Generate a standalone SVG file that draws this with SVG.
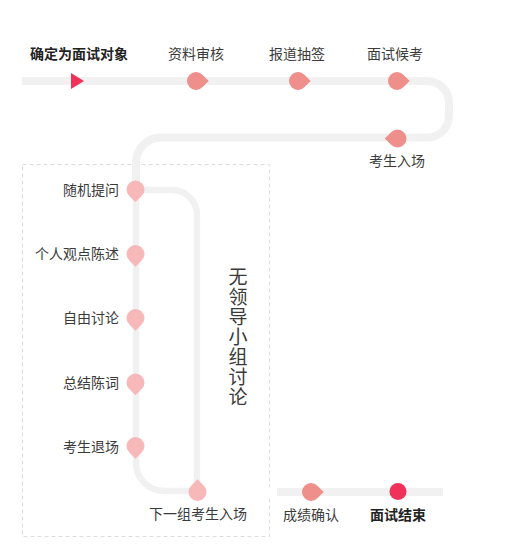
<svg xmlns="http://www.w3.org/2000/svg" xmlns:xlink="http://www.w3.org/1999/xlink" width="506" height="558" viewBox="0 0 506 558">
<style>
text{font-family:"Noto Sans CJK SC","Noto Sans",sans-serif;font-size:14px;fill:#3a3a3a}
.b{font-weight:bold;fill:#222}
.r{text-anchor:end}
.c{text-anchor:middle}
.track{fill:none;stroke:#f1f1f1;stroke-linecap:butt;stroke-linejoin:round}
.p1{fill:#ee8f8c}
.p2{fill:#f6b8b8}
.red{fill:#f0315a}
.vt{font-size:19px;writing-mode:vertical-rl;letter-spacing:1px}
</style>
<defs>
<path id="pin" d="M6.36,-6.36 L12.73,0 L6.36,6.36 A9,9 0 1 1 6.36,-6.36Z"/>
</defs>
<rect x="22.5" y="164.5" width="247" height="372" fill="none" stroke="#dcdcdc" stroke-dasharray="4,3"/>
<g id="connectors">
<path class="track" stroke-width="8" d="M22,81 H427 A22,22 0 0 1 449,103 V115.5 A22,22 0 0 1 427,137.5 H161 A25,25 0 0 0 136,162.5 V190"/>
<path class="track" stroke-width="6.5" d="M136,190 V463 A28,28 0 0 0 164,491 H198"/>
<path class="track" stroke-width="6.5" d="M136,190 H172 A25,25 0 0 1 197,215 V491"/>
<path class="track" stroke-width="8" d="M277,492 H443"/>
<polygon points="268,486 275,492 268,498" fill="#fff"/>
</g>
<g id="n-start"><polygon class="red" points="71,73 84,81 71,89"/><text class="b" x="30" y="59">确定为面试对象</text></g>
<g id="n-zlsh"><use xlink:href="#pin" class="p1" transform="translate(196,81)"/><text class="c" x="196" y="59">资料审核</text></g>
<g id="n-bdcq"><use xlink:href="#pin" class="p1" transform="translate(298,81)"/><text class="c" x="297" y="59">报道抽签</text></g>
<g id="n-mshk"><use xlink:href="#pin" class="p1" transform="translate(397,81)"/><text class="c" x="395" y="59">面试候考</text></g>
<g id="n-ksrc"><use xlink:href="#pin" class="p1" transform="translate(397.5,138.5) rotate(180)"/><text class="c" x="397" y="166">考生入场</text></g>
<g id="n-sjtw"><use xlink:href="#pin" class="p2" transform="translate(135.5,189.5) rotate(90)"/><text class="r" x="119" y="195">随机提问</text></g>
<g id="n-grgd"><use xlink:href="#pin" class="p2" transform="translate(135.5,254) rotate(90)"/><text class="r" x="119" y="259">个人观点陈述</text></g>
<g id="n-zytl"><use xlink:href="#pin" class="p2" transform="translate(135.5,318) rotate(90)"/><text class="r" x="119" y="323">自由讨论</text></g>
<g id="n-zjcc"><use xlink:href="#pin" class="p2" transform="translate(135.5,382.5) rotate(90)"/><text class="r" x="119" y="388">总结陈词</text></g>
<g id="n-kstc"><use xlink:href="#pin" class="p2" transform="translate(135.5,446) rotate(90)"/><text class="r" x="119" y="452">考生退场</text></g>
<g id="n-xyz"><use xlink:href="#pin" class="p2" transform="translate(197.5,492) rotate(-90)"/><text class="c" x="198" y="519">下一组考生入场</text></g>
<g id="n-cjqr"><use xlink:href="#pin" class="p1" transform="translate(311,492)"/><text class="c" x="311" y="520">成绩确认</text></g>
<g id="n-end"><circle class="red" cx="398" cy="491.5" r="8.5"/><text class="b c" x="398" y="520">面试结束</text></g>
<g id="group-label"><text class="vt" x="238" y="267">无领导小组讨论</text></g>
</svg>
